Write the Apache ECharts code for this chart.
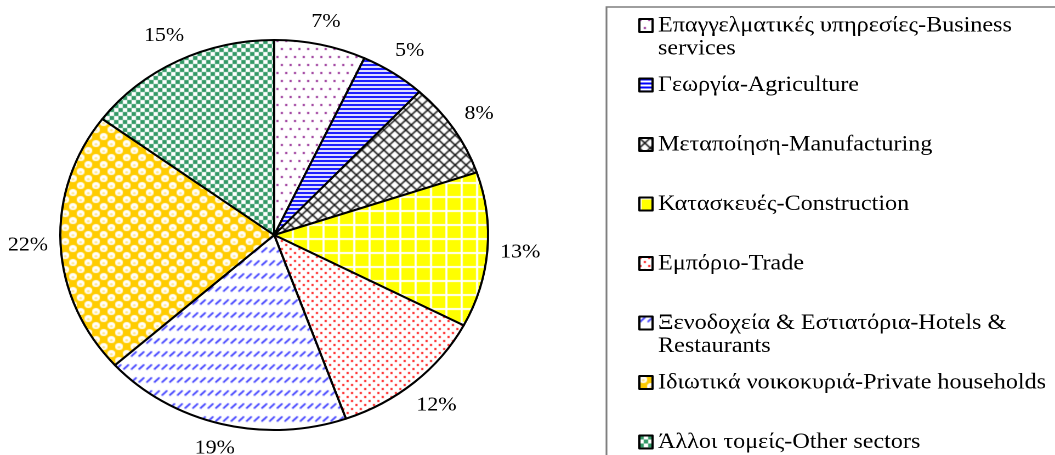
<!DOCTYPE html>
<html>
<head>
<meta charset="utf-8">
<script src="https://cdn.jsdelivr.net/npm/echarts@6/dist/echarts.min.js"></script>
<style>
  html, body { margin: 0; padding: 0; background: #fff; overflow: hidden; }
  /* the original picture is stretched sideways (the pie is an ellipse) */
  #chart { width: 962px; height: 455px; transform: scaleX(1.0967); transform-origin: 0 0; }
</style>
</head>
<body>
<div id="chart"></div>
<script>
  const sectors = [
    "Επαγγελματικές υπηρεσίες-Business\nservices",
    "Γεωργία-Agriculture",
    "Μεταποίηση-Manufacturing",
    "Κατασκευές-Construction",
    "Εμπόριο-Trade",
    "Ξενοδοχεία & Εστιατόρια-Hotels &\nRestaurants",
    "Ιδιωτικά νοικοκυριά-Private households",
    "Άλλοι τομείς-Other sectors",
  ]
  const shares = [7, 5, 8, 13, 12, 19, 22, 15]

  // small canvas tiles used as pattern fills
  function tile(w, h, paint) {
    const c = document.createElement("canvas")
    c.width = w
    c.height = h
    const ctx = c.getContext("2d")
    paint(ctx, w, h)
    return { image: c, repeat: "repeat" }
  }

  const fills = [
    tile(8, 16, (ctx, w, h) => {
      ctx.fillStyle = "#fff"
      ctx.fillRect(0, 0, w, h)
      ctx.fillStyle = "#993399"
      ctx.fillRect(0, 0, 2, 2)
      ctx.fillRect(4, 8, 2, 2)
    }),
    tile(4, 4, (ctx, w, h) => {
      ctx.fillStyle = "#fff"
      ctx.fillRect(0, 0, w, h)
      ctx.fillStyle = "#0000ff"
      ctx.fillRect(0, 0, w, 2)
    }),
    tile(10, 10, (ctx, w, h) => {
      ctx.fillStyle = "#fff"
      ctx.fillRect(0, 0, w, h)
      ctx.strokeStyle = "#111"
      ctx.lineWidth = 1.4
      ctx.beginPath()
      ctx.moveTo(0, h)
      ctx.lineTo(w, 0)
      ctx.moveTo(0, 0)
      ctx.lineTo(w, h)
      ctx.stroke()
    }),
    tile(14, 14, (ctx, w, h) => {
      ctx.fillStyle = "#ffff00"
      ctx.fillRect(0, 0, w, h)
      ctx.fillStyle = "#fff"
      ctx.fillRect(0, 0, w, 2)
      ctx.fillRect(0, 0, 2, h)
    }),
    tile(8, 8, (ctx, w, h) => {
      ctx.fillStyle = "#fff"
      ctx.fillRect(0, 0, w, h)
      ctx.fillStyle = "#ff2020"
      ctx.fillRect(0, 0, 2, 2)
      ctx.fillRect(4, 4, 2, 2)
    }),
    tile(14, 13, (ctx, w, h) => {
      ctx.fillStyle = "#fff"
      ctx.fillRect(0, 0, w, h)
      ctx.strokeStyle = "#3333ff"
      ctx.lineWidth = 1.6
      ctx.beginPath()
      ctx.moveTo(0.5, 5.5)
      ctx.lineTo(5.5, 0.5)
      ctx.moveTo(7.5, 5.5)
      ctx.lineTo(12.5, 0.5)
      ctx.stroke()
    }),
    tile(14, 14, (ctx, w, h) => {
      ctx.fillStyle = "#ffcc00"
      ctx.fillRect(0, 0, w, h)
      ;[[3.5, 3.5], [10.5, 10.5]].forEach(([x, y]) => {
        ctx.fillStyle = "#fff"
        ctx.beginPath()
        ctx.arc(x, y, 3.5, 0, Math.PI * 2)
        ctx.fill()
        ctx.fillStyle = "#ffe680"
        ctx.beginPath()
        ctx.arc(x, y + 0.8, 1.2, 0, Math.PI * 2)
        ctx.fill()
      })
    }),
    tile(8, 8, (ctx, w, h) => {
      ctx.fillStyle = "#fff"
      ctx.fillRect(0, 0, w, h)
      ctx.fillStyle = "#339966"
      ctx.fillRect(0, 0, 4, 4)
      ctx.fillRect(4, 4, 4, 4)
    }),
  ]

  const font = "Liberation Serif"
  const lineH = 23

  // one legend per entry; wrapped entries get an empty first line so the
  // icon (centred on the text block) sits next to the real first line
  const legends = sectors.map((name, i) => {
    const n = name.split("\n").length
    const iconY = 25.5 + 59.5 * i
    return {
      data: [name],
      orient: "vertical",
      left: 582,
      top: iconY - ((2 * n - 1) * lineH) / 2,
      padding: 0,
      icon: "rect",
      itemWidth: 12,
      itemHeight: 13,
      selectedMode: false,
      formatter: (label) => (n > 1 ? "\n" + label : label),
      itemStyle: { borderColor: "#000", borderWidth: 2 },
      textStyle: {
        fontFamily: font,
        fontSize: 22,
        color: "#000",
        lineHeight: lineH,
      },
    }
  })

  const myChart = echarts.init(document.getElementById("chart"), null, { devicePixelRatio: 2 })
  myChart.setOption({
    animation: false,
    backgroundColor: "#fff",
    legend: legends,
    graphic: [
      {
        type: "rect",
        silent: true,
        shape: { x: 553, y: 7, width: 600, height: 600 },
        style: { fill: "none", stroke: "#7f7f7f", lineWidth: 1.6 },
      },
    ],
    series: [
      {
        type: "pie",
        center: [250, 235],
        radius: 195,
        startAngle: 90,
        clockwise: true,
        avoidLabelOverlap: false,
        silent: true,
        emphasis: { disabled: true },
        itemStyle: { borderColor: "#000", borderWidth: 2 },
        label: {
          show: true,
          position: "outside",
          formatter: "{c}%",
          fontFamily: font,
          fontSize: 20,
          color: "#000",
        },
        labelLine: { show: true, length: 10, length2: 0, lineStyle: { opacity: 0 } },
        // put each label just off the rim, centred on the slice's middle direction
        labelLayout: function (params) {
          const pts = params.labelLinePoints
          if (!pts) return {}
          const dx = pts[1][0] - pts[0][0]
          const dy = pts[1][1] - pts[0][1]
          const len = Math.hypot(dx, dy) || 1
          const ux = dx / len
          const uy = dy / len
          const r = params.labelRect
          const d = 11 + (Math.abs(ux) * r.width) / 2 + (Math.abs(uy) * r.height) / 2
          return { x: pts[0][0] + ux * d, y: pts[0][1] + uy * d, align: "center", verticalAlign: "middle" }
        },
        data: sectors.map((name, i) => ({
          name: name,
          value: shares[i],
          itemStyle: { color: fills[i] },
        })),
      },
    ],
  })
</script>
</body>
</html>
